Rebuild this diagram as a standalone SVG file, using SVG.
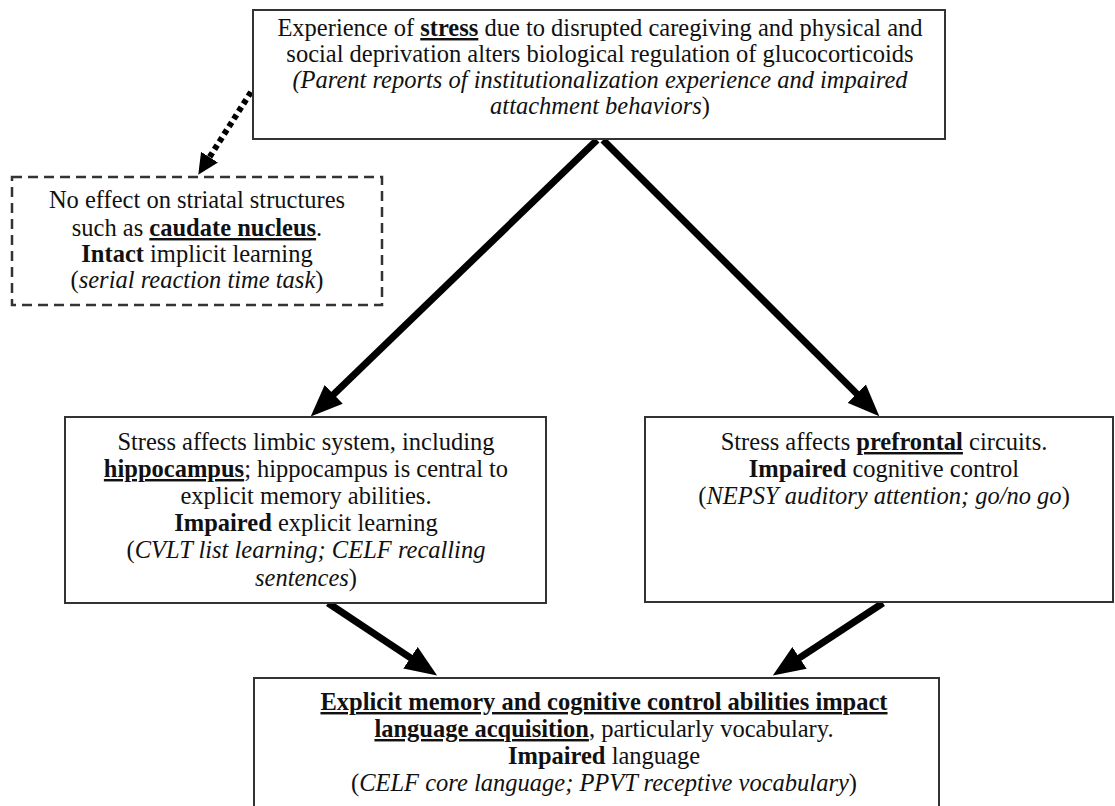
<svg xmlns="http://www.w3.org/2000/svg" width="1115" height="806" viewBox="0 0 1115 806">
<style>
  .box { fill: #fff; stroke: #333; stroke-width: 2; }
  .dbox { fill: #fff; stroke: #333; stroke-width: 2.5; stroke-dasharray: 10 6; }
  .t { font-family: 'Liberation Serif', 'Times New Roman', 'DejaVu Serif', serif; font-size: 24.5px; fill: #111; text-anchor: middle; }
  .b { font-weight: bold; }
  .u { text-decoration: underline; }
  .i { font-style: italic; }
  .arr { stroke: #000; stroke-width: 7; fill: none; }
  .dot { stroke: #000; stroke-width: 6; fill: none; stroke-dasharray: 5 4; }
</style>
<defs>
  <marker id="head" viewBox="0 -13 32 26" markerWidth="32" markerHeight="26" refX="1" refY="0" markerUnits="userSpaceOnUse" orient="auto">
    <path d="M0,-13 L32,0 L0,13 z" fill="#000"/>
  </marker>
  <marker id="dhead" viewBox="0 -10 21 20" markerWidth="21" markerHeight="20" refX="1" refY="0" markerUnits="userSpaceOnUse" orient="auto">
    <path d="M0,-10 L21,0 L0,10 z" fill="#000"/>
  </marker>
</defs>
<rect width="1115" height="806" fill="#fff"/>

<g id="connectors">
  <line class="arr" x1="597" y1="140" x2="333" y2="395" marker-end="url(#head)"/>
  <line class="arr" x1="603" y1="140" x2="857.4" y2="394.4" marker-end="url(#head)"/>
  <line class="arr" x1="328" y1="603" x2="411.3" y2="658.3" marker-end="url(#head)"/>
  <line class="arr" x1="883" y1="603" x2="798.7" y2="658.4" marker-end="url(#head)"/>
  <line class="dot" x1="251" y1="92" x2="209" y2="158" marker-end="url(#dhead)"/>
</g>

<g font-family="Liberation Serif, Times New Roman, serif" class="t">
<g id="node-stress">
  <rect class="box" x="253" y="10" width="692" height="129"/>
  <text class="t" x="600" y="36">Experience of <tspan class="b u">stress</tspan> due to disrupted caregiving and physical and</text>
  <text class="t" x="600" y="62">social deprivation alters biological regulation of glucocorticoids</text>
  <text class="t i" x="600" y="88">(Parent reports of institutionalization experience and impaired</text>
  <text class="t" x="600" y="114"><tspan class="i">attachment behaviors</tspan>)</text>
</g>

<g id="node-striatal">
  <rect class="dbox" x="12" y="177" width="370" height="128"/>
  <text class="t" x="197" y="208">No effect on striatal structures</text>
  <text class="t" x="197" y="236">such as <tspan class="b u">caudate nucleus</tspan>.</text>
  <text class="t" x="197" y="262"><tspan class="b">Intact</tspan> implicit learning</text>
  <text class="t" x="197" y="288">(<tspan class="i">serial reaction time task</tspan>)</text>
</g>

<g id="node-hippocampus">
  <rect class="box" x="65" y="417" width="481" height="186"/>
  <text class="t" x="306" y="450">Stress affects limbic system, including</text>
  <text class="t" x="306" y="477"><tspan class="b u">hippocampus</tspan>; hippocampus is central to</text>
  <text class="t" x="306" y="504">explicit memory abilities.</text>
  <text class="t" x="306" y="531"><tspan class="b">Impaired</tspan> explicit learning</text>
  <text class="t" x="306" y="558">(<tspan class="i">CVLT list learning; CELF recalling</tspan></text>
  <text class="t" x="306" y="586"><tspan class="i">sentences</tspan>)</text>
</g>

<g id="node-prefrontal">
  <rect class="box" x="645" y="417" width="468" height="185"/>
  <text class="t" x="884" y="450">Stress affects <tspan class="b u">prefrontal</tspan> circuits.</text>
  <text class="t" x="884" y="477"><tspan class="b">Impaired</tspan> cognitive control</text>
  <text class="t" x="884" y="504">(<tspan class="i">NEPSY auditory attention; go/no go</tspan>)</text>
</g>

<g id="node-language">
  <rect class="box" x="254" y="678" width="685" height="150"/>
  <text class="t b u" x="604" y="710">Explicit memory and cognitive control abilities impact</text>
  <text class="t" x="604" y="737"><tspan class="b u">language acquisition</tspan>, particularly vocabulary.</text>
  <text class="t" x="604" y="764"><tspan class="b">Impaired</tspan> language</text>
  <text class="t" x="604" y="791">(<tspan class="i">CELF core language; PPVT receptive vocabulary</tspan>)</text>
</g>
</g>
</svg>
